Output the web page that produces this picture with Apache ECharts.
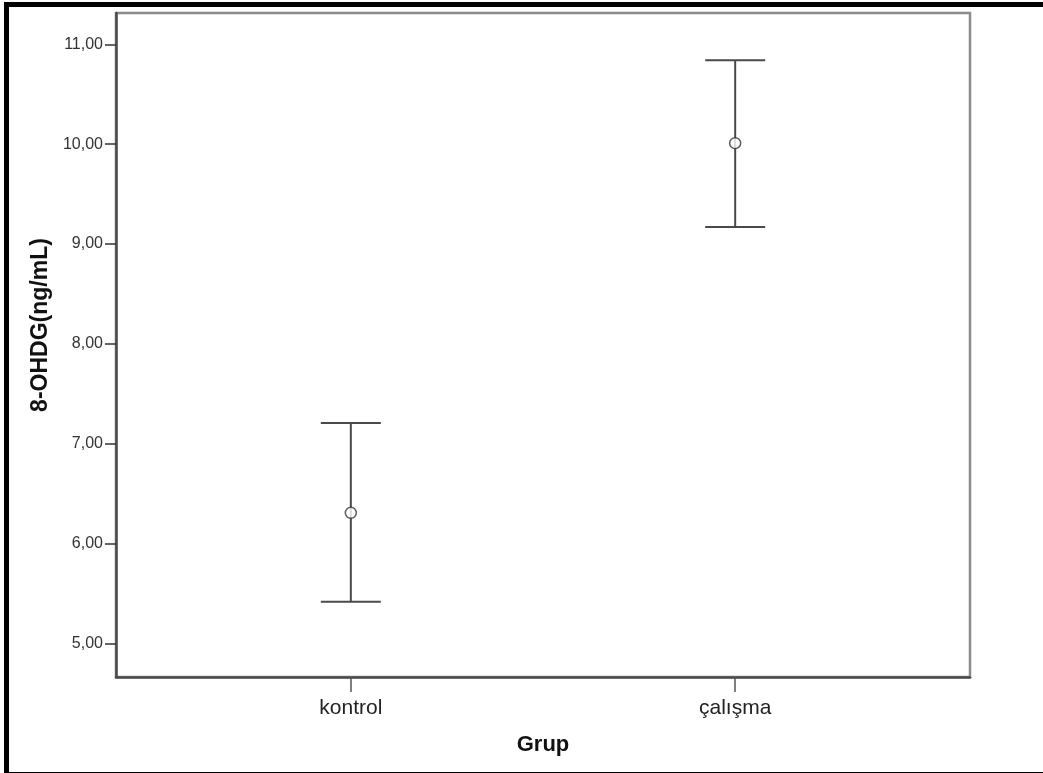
<!DOCTYPE html>
<html>
<head>
<meta charset="utf-8">
<script src="https://cdn.jsdelivr.net/npm/echarts@6/dist/echarts.min.js"></script>
<style>
  html, body { margin: 0; padding: 0; background: #fff; }
  #frame { position: absolute; left: 4px; top: 2px; width: 1100px; height: 775px; border: 5px solid #000; box-sizing: border-box; }
  #chart { position: absolute; left: 0; top: 0; width: 1043px; height: 773px; }
  body { width: 1043px; height: 773px; overflow: hidden; position: relative; }
</style>
</head>
<body>
<div id="frame"></div>
<div id="chart"></div>
<script>
// ---- data ----
const categories = ['kontrol', 'çalışma'];
const means = [6.31, 10.01];
const lower = [5.42, 9.17];
const upper = [7.21, 10.84];
const yTicks = [5, 6, 7, 8, 9, 10, 11];
const xTitle = 'Grup';
const yTitle = '8-OHDG(ng/mL)';

const catIdx = categories.map((c, i) => i);
const fontFam = 'Liberation Sans, Arial, Helvetica, sans-serif';

const chart = echarts.init(document.getElementById('chart'), null, { renderer: 'canvas' });

const option = {
  animation: false,
  backgroundColor: 'transparent',
  grid: {
    left: 116, top: 13, right: 73, bottom: 96,
    show: true, borderColor: '#8c8c8c', borderWidth: 2.5, backgroundColor: '#fff'
  },
  xAxis: {
    type: 'value',
    min: -0.611, max: 1.611,
    name: xTitle, nameLocation: 'middle', nameGap: 57,
    nameTextStyle: { fontFamily: fontFam, fontSize: 22, fontWeight: 'bold', color: '#111' },
    splitLine: { show: false },
    axisLine: { show: true, onZero: false, lineStyle: { color: '#4a4a4a', width: 2.5 } },
    axisTick: { show: true, length: 15, lineStyle: { color: '#555', width: 1.5 }, customValues: catIdx },
    axisLabel: {
      customValues: catIdx, margin: 21,
      fontFamily: fontFam, fontSize: 21, color: '#222',
      formatter: v => categories[Math.round(v)]
    }
  },
  yAxis: {
    type: 'value',
    min: 4.667, max: 11.313,
    name: yTitle, nameLocation: 'middle', nameGap: 63, nameRotate: 90,
    nameTextStyle: { fontFamily: fontFam, fontSize: 23, fontWeight: 'bold', color: '#111', padding: [0, 0, 0, 40] },
    splitLine: { show: false },
    axisLine: { show: true, onZero: false, lineStyle: { color: '#4a4a4a', width: 2.5 } },
    axisTick: { show: true, length: 11, lineStyle: { color: '#333', width: 1.5 }, customValues: yTicks },
    axisLabel: {
      customValues: yTicks, margin: 13,
      fontFamily: fontFam, fontSize: 16, color: '#333',
      formatter: v => v.toFixed(2).replace('.', ',')
    }
  },
  series: [
    {
      type: 'custom',
      data: catIdx.map(i => [i, lower[i], upper[i]]),
      renderItem: function (params, api) {
        const x = api.value(0);
        const lo = api.coord([x, api.value(1)]);
        const hi = api.coord([x, api.value(2)]);
        const hw = 30;
        const style = { stroke: '#4a4a4a', lineWidth: 2 };
        return {
          type: 'group',
          children: [
            { type: 'line', shape: { x1: hi[0], y1: hi[1], x2: lo[0], y2: lo[1] }, style: style },
            { type: 'line', shape: { x1: hi[0] - hw, y1: hi[1], x2: hi[0] + hw, y2: hi[1] }, style: style },
            { type: 'line', shape: { x1: lo[0] - hw, y1: lo[1], x2: lo[0] + hw, y2: lo[1] }, style: style }
          ]
        };
      },
      z: 2
    },
    {
      type: 'scatter',
      data: catIdx.map(i => [i, means[i]]),
      symbol: 'circle',
      symbolSize: 11,
      itemStyle: { color: '#fff', borderColor: '#333', borderWidth: 1.5 },
      z: 3
    }
  ]
};
chart.setOption(option);
</script>
</body>
</html>
